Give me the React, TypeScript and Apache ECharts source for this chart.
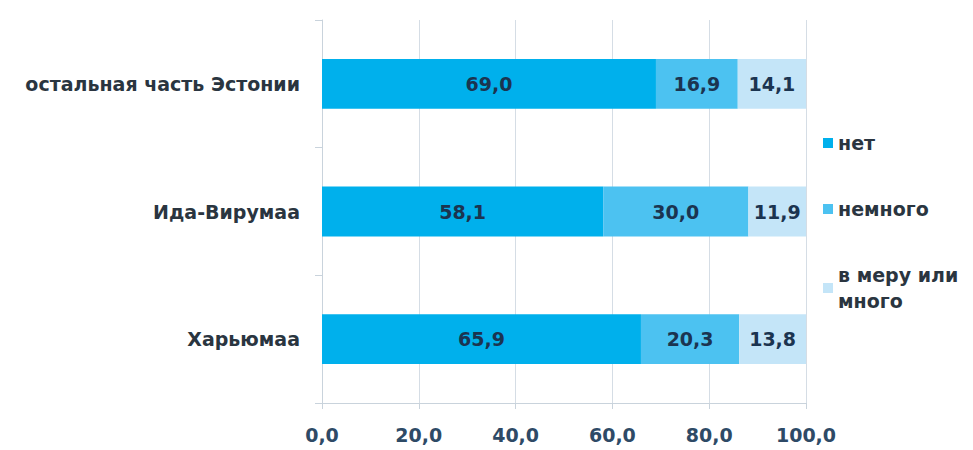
import React, { useEffect, useRef } from "react";
import * as echarts from "echarts";

const categories = ["Харьюмаа", "Ида-Вирумаа", "остальная часть Эстонии"];
const seriesNames = ["нет", "немного", "в меру или много"];
const netValues = [65.9, 58.1, 69.0];
const nemnogoValues = [20.3, 30.0, 16.9];
const mnogoValues = [13.8, 11.9, 14.1];
const xTicks = [0, 20, 40, 60, 80, 100];
const colors = ["#00b0ec", "#4cc2f1", "#c4e5f8"];

const fmt = (v: number) => v.toFixed(1).replace(".", ",");
const FONT = "DejaVu Sans";

export default function App() {
  const ref = useRef<HTMLDivElement>(null);
  useEffect(() => {
    if (!ref.current) return;
    const chart = echarts.init(ref.current, undefined, { renderer: "svg" });
    const values = [netValues, nemnogoValues, mnogoValues];
    chart.setOption({
      animation: false,
      backgroundColor: "#ffffff",
      grid: { left: 322, right: 167, top: 20, bottom: 47, containLabel: false },
      xAxis: {
        type: "value",
        min: xTicks[0],
        max: xTicks[xTicks.length - 1],
        interval: 20,
        axisLine: { show: true, lineStyle: { color: "#c9d3dc" } },
        axisTick: { show: true, length: 6, lineStyle: { color: "#c9d3dc" } },
        splitLine: { show: true, lineStyle: { color: "#d5dde5" } },
        axisLabel: {
          formatter: (v: number) => fmt(v),
          color: "#2e4a66",
          fontFamily: FONT,
          fontSize: 19,
          fontWeight: "bold",
          margin: 22,
        },
      },
      yAxis: {
        type: "category",
        data: categories,
        axisLine: { show: true, lineStyle: { color: "#c9d3dc" } },
        axisTick: { show: true, length: 7, lineStyle: { color: "#c9d3dc" } },
        axisLabel: {
          color: "#2a3540",
          fontFamily: FONT,
          fontSize: 19,
          fontWeight: "bold",
          margin: 22,
        },
      },
      legend: {
        orient: "vertical",
        left: 818,
        top: 125,
        itemWidth: 10,
        itemHeight: 10,
        itemGap: 40,
        icon: "rect",
        data: seriesNames,
        formatter: (n: string) => (n === "в меру или много" ? "в меру или\nмного" : n),
        textStyle: {
          color: "#2a3540",
          fontFamily: FONT,
          fontSize: 19,
          fontWeight: "bold",
          lineHeight: 26,
        },
      },
      series: seriesNames.map((name, i) => ({
        name,
        type: "bar",
        stack: "total",
        barWidth: "39%",
        data: values[i],
        itemStyle: { color: colors[i] },
        label: {
          show: true,
          position: "inside",
          formatter: (p: any) => fmt(p.value),
          color: "#1b3450",
          fontFamily: FONT,
          fontSize: 19,
          fontWeight: "bold",
        },
      })),
    });
    return () => chart.dispose();
  }, []);
  return <div ref={ref} style={{ width: 973, height: 450, position: "absolute", left: 0, top: 0 }} />;
}
